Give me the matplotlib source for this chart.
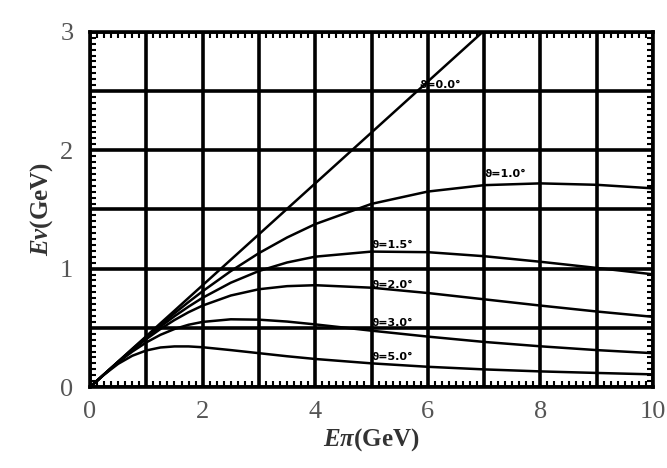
import numpy as np
import matplotlib
matplotlib.use('Agg')
import matplotlib.pyplot as plt
from matplotlib.ticker import MultipleLocator

plt.rcParams['mathtext.fontset'] = 'custom'
plt.rcParams['mathtext.it'] = 'Liberation Serif:italic:bold'
plt.rcParams['mathtext.rm'] = 'Liberation Serif:bold'

# pion energy grid (GeV)
E_PI = [0, 0.25, 0.5, 0.75, 1, 1.25, 1.5, 1.75, 2, 2.5, 3, 3.5, 4, 5, 6, 7, 8, 9, 10]

# neutrino energy (GeV) for each off-axis angle
NU_00 = [0, 0.108, 0.215, 0.323, 0.43, 0.538, 0.645, 0.753, 0.86, 1.075, 1.29, 1.505, 1.72,
         2.15, 2.58, 3.01, 3.44, 3.87, 4.30]
NU_10 = [0, 0.107, 0.214, 0.320, 0.423, 0.525, 0.623, 0.718, 0.809, 0.979, 1.131, 1.263, 1.376,
         1.547, 1.651, 1.705, 1.720, 1.708, 1.678]
NU_15 = [0, 0.107, 0.213, 0.316, 0.415, 0.510, 0.598, 0.679, 0.754, 0.881, 0.980, 1.052, 1.101,
         1.144, 1.139, 1.105, 1.058, 1.006, 0.952]
NU_20 = [0, 0.107, 0.212, 0.312, 0.405, 0.490, 0.566, 0.632, 0.688, 0.773, 0.826, 0.852, 0.860,
         0.839, 0.794, 0.741, 0.688, 0.638, 0.593]
NU_30 = [0, 0.107, 0.208, 0.299, 0.377, 0.441, 0.490, 0.526, 0.550, 0.572, 0.569, 0.553, 0.529,
         0.476, 0.426, 0.381, 0.344, 0.312, 0.286]
NU_50 = [0, 0.105, 0.196, 0.264, 0.309, 0.334, 0.343, 0.343, 0.336, 0.312, 0.286, 0.260, 0.237,
         0.200, 0.171, 0.149, 0.132, 0.119, 0.107]

LABELS = ['ϑ=0.0°', 'ϑ=1.0°', 'ϑ=1.5°', 'ϑ=2.0°', 'ϑ=3.0°', 'ϑ=5.0°']
LABEL_POS = [(5.85, 2.55), (7.0, 1.80), (5.0, 1.20), (5.0, 0.86), (5.0, 0.54), (5.0, 0.25)]

fig = plt.figure(figsize=(6.67, 4.68), dpi=100)
ax = fig.add_axes([0.135, 0.173, 0.844, 0.759])

for series in [NU_00, NU_10, NU_15, NU_20, NU_30, NU_50]:
    ax.plot(E_PI, series, color='black', lw=1.8)

for txt, (x, y) in zip(LABELS, LABEL_POS):
    ax.text(x, y, txt, fontsize=8, fontweight='bold', family='DejaVu Sans',
            ha='left', va='center')

ax.set_xlim(0, 10)
ax.set_ylim(0, 3)

# heavy grid every 1 GeV / 0.5 GeV
ax.set_xticks(np.arange(0, 10.5, 1))
ax.set_xticklabels(['0', '', '2', '', '4', '', '6', '', '8', '', '10'])
ax.set_yticks([0, 0.5, 1, 1.5, 2, 2.5, 3])
ax.set_yticklabels(['0', '', '1', '', '2', '', '3'])
ax.grid(True, which='major', color='black', lw=2.6)
ax.set_axisbelow(True)

ax.xaxis.set_minor_locator(MultipleLocator(0.125))
ax.yaxis.set_minor_locator(MultipleLocator(0.05))
ax.tick_params(which='both', direction='in', top=True, right=True, colors='black')
ax.tick_params(which='major', length=0, labelsize=19, labelcolor='#555555')
ax.tick_params(axis='x', which='major', pad=10)
ax.tick_params(axis='y', which='major', pad=12)
ax.tick_params(which='minor', length=4, width=1.5)
for lbl in ax.get_xticklabels() + ax.get_yticklabels():
    lbl.set_family('Liberation Serif')

for s in ax.spines.values():
    s.set_linewidth(2.6)

ax.set_xlabel(r'$E\pi$(GeV)', fontsize=18, fontweight='bold', family='Liberation Serif',
              color='#333333', labelpad=2)
ax.set_ylabel(r'$E\nu$(GeV)', fontsize=18, fontweight='bold', family='Liberation Serif',
              color='#333333', labelpad=4)

fig.savefig('out.png', dpi=100)
